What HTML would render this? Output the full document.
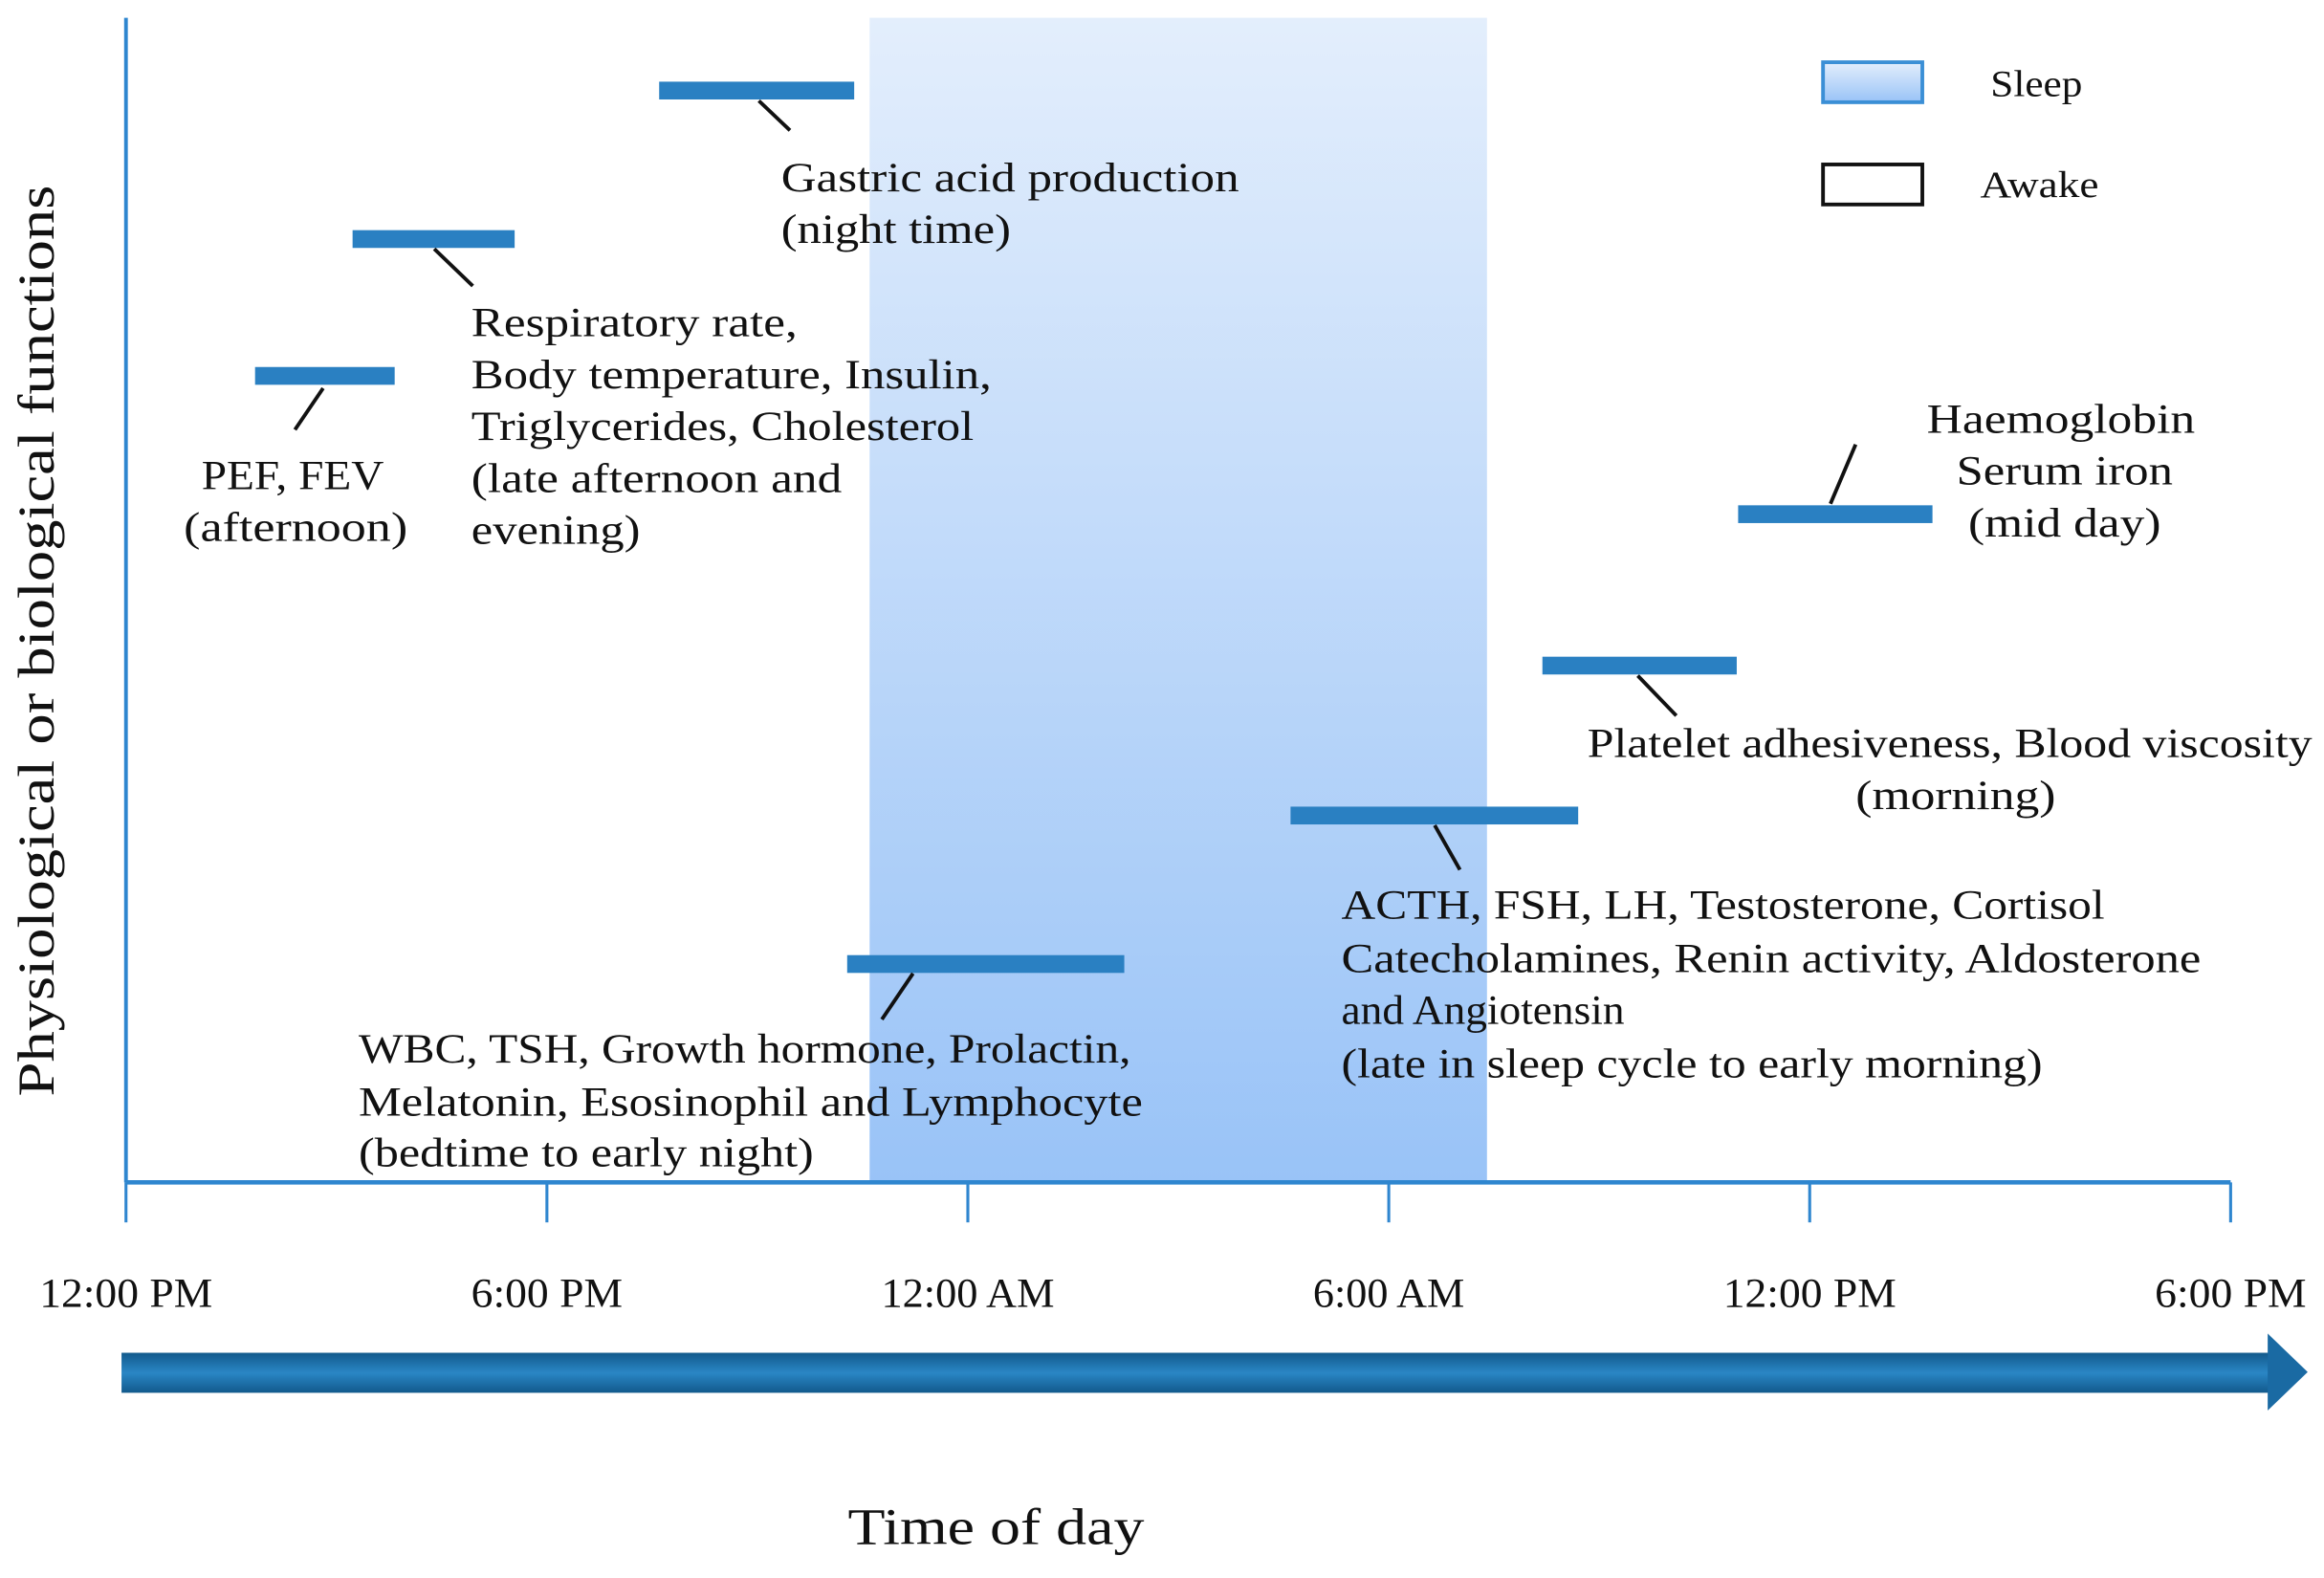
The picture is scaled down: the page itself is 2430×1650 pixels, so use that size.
<!DOCTYPE html>
<html><head><meta charset="utf-8"><style>
html,body{margin:0;padding:0;background:#fff;}
svg{display:block;}
text{font-family:"Liberation Serif",serif;fill:#111;}
</style></head><body>
<svg id="chart" width="2430" height="1650" viewBox="0 0 1568 1065" preserveAspectRatio="none" xmlns="http://www.w3.org/2000/svg">
<defs>
<linearGradient id="sleepGrad" x1="0" y1="0" x2="0" y2="1"><stop offset="0" stop-color="#e3eefc"/><stop offset="1" stop-color="#99c3f7"/></linearGradient>
<linearGradient id="arrowGrad" x1="0" y1="0" x2="0" y2="1"><stop offset="0" stop-color="#125a8c"/><stop offset="0.5" stop-color="#2a86c5"/><stop offset="1" stop-color="#125a8c"/></linearGradient>
</defs>
<g id="sleep-layer"></g>
<g id="axes"></g>
<g id="bars"></g>
<g id="annotations" font-size="28">
<line x1="512" y1="68" x2="533" y2="88" stroke="#111" stroke-width="2.5"/>
<text x="527" y="129" textLength="309" lengthAdjust="spacingAndGlyphs">Gastric acid production</text>
<text x="527" y="164" textLength="155" lengthAdjust="spacingAndGlyphs">(night time)</text>
<line x1="293" y1="168" x2="319" y2="193" stroke="#111" stroke-width="2.5"/>
<text x="318" y="227" textLength="220" lengthAdjust="spacingAndGlyphs">Respiratory rate,</text>
<text x="318" y="262" textLength="351" lengthAdjust="spacingAndGlyphs">Body temperature, Insulin,</text>
<text x="318" y="297" textLength="339" lengthAdjust="spacingAndGlyphs">Triglycerides, Cholesterol</text>
<text x="318" y="332" textLength="250" lengthAdjust="spacingAndGlyphs">(late afternoon and</text>
<text x="318" y="367" textLength="114" lengthAdjust="spacingAndGlyphs">evening)</text>
<line x1="218" y1="262" x2="199" y2="290" stroke="#111" stroke-width="2.5"/>
<text x="136" y="330" textLength="123" lengthAdjust="spacingAndGlyphs">PEF, FEV</text>
<text x="124" y="365" textLength="151" lengthAdjust="spacingAndGlyphs">(afternoon)</text>
<line x1="1235" y1="340" x2="1252" y2="300" stroke="#111" stroke-width="2.5"/>
<text x="1300" y="292" textLength="181" lengthAdjust="spacingAndGlyphs">Haemoglobin</text>
<text x="1320" y="327" textLength="146" lengthAdjust="spacingAndGlyphs">Serum iron</text>
<text x="1328" y="362" textLength="130" lengthAdjust="spacingAndGlyphs">(mid day)</text>
<line x1="1105" y1="456" x2="1131" y2="483" stroke="#111" stroke-width="2.5"/>
<text x="1071" y="511" textLength="489" lengthAdjust="spacingAndGlyphs">Platelet adhesiveness, Blood viscosity</text>
<text x="1252" y="546" textLength="135" lengthAdjust="spacingAndGlyphs">(morning)</text>
<line x1="968" y1="557" x2="985" y2="587" stroke="#111" stroke-width="2.5"/>
<text x="905" y="620" textLength="515" lengthAdjust="spacingAndGlyphs">ACTH, FSH, LH,  Testosterone, Cortisol</text>
<text x="905" y="656" textLength="580" lengthAdjust="spacingAndGlyphs">Catecholamines, Renin activity, Aldosterone</text>
<text x="905" y="691" textLength="191" lengthAdjust="spacingAndGlyphs">and Angiotensin</text>
<text x="905" y="727" textLength="473" lengthAdjust="spacingAndGlyphs">(late in sleep cycle to early morning)</text>
<line x1="616" y1="657" x2="595" y2="688" stroke="#111" stroke-width="2.5"/>
<text x="242" y="717" textLength="521" lengthAdjust="spacingAndGlyphs">WBC, TSH, Growth hormone, Prolactin,</text>
<text x="242" y="753" textLength="529" lengthAdjust="spacingAndGlyphs">Melatonin, Esosinophil and Lymphocyte</text>
<text x="242" y="787" textLength="307" lengthAdjust="spacingAndGlyphs">(bedtime to early night)</text>
</g>
<g id="legend">
<rect x="1230" y="42" width="67" height="27" fill="url(#sleepGrad)" stroke="#3b8fd6" stroke-width="2.5"/>
<text x="1343" y="65" font-size="25" textLength="62" lengthAdjust="spacingAndGlyphs">Sleep</text>
<rect x="1230" y="111" width="67" height="27" fill="#fff" stroke="#111" stroke-width="2.5"/>
<text x="1336" y="133" font-size="25" textLength="80" lengthAdjust="spacingAndGlyphs">Awake</text>
</g>
<g>
<rect x="82" y="913" width="1450" height="27" fill="url(#arrowGrad)"/>
<polygon points="1530,900 1557,926 1530,952" fill="#1a6aa3"/>
</g>
<text x="572" y="1042" font-size="35" textLength="200" lengthAdjust="spacingAndGlyphs">Time of day</text>
<text transform="translate(36,740) rotate(-90)" font-size="35" textLength="615" lengthAdjust="spacingAndGlyphs">Physiological or biological functions</text>
</svg>
<script>
// hours since 12:00 PM
const tickHours = [0, 6, 12, 18, 24, 30];
const tickLabels = ["12:00 PM", "6:00 PM", "12:00 AM", "6:00 AM", "12:00 PM", "6:00 PM"];
const sleepRange = [10.6, 19.4];
const barNames = ["gastric-acid", "respiratory-rate", "pef-fev", "haemoglobin", "platelet", "acth", "wbc"];
const barStarts = [7.6, 3.23, 1.84, 22.98, 20.19, 16.6, 10.28];
const barEnds = [10.38, 5.54, 3.83, 25.75, 22.96, 20.7, 14.23];
const barLevels = [7.5, 6.48, 5.54, 4.59, 3.55, 2.52, 1.5];

const NS = "http://www.w3.org/2000/svg";
const X0 = 85, X1 = 1505, Y0 = 798, Y1 = 12;
function xs(h){ return X0 + h * (X1 - X0) / 30; }
function ys(v){ return Y0 - v * (Y0 - Y1) / 8; }
function mk(tag, attrs, parent){ const e = document.createElementNS(NS, tag); for (const k in attrs) e.setAttribute(k, attrs[k]); parent.appendChild(e); return e; }

const sl = document.getElementById("sleep-layer");
const sr = mk("rect", {x: xs(sleepRange[0]), y: Y1, width: xs(sleepRange[1]) - xs(sleepRange[0]), height: Y0 - Y1, fill: "url(#sleepGrad)"}, sl);



const ax = document.getElementById("axes");
const ya = mk("line", {x1: X0, y1: Y1, x2: X0, y2: Y0, stroke: "#2f86cf", "stroke-width": 2.5}, ax);


const xa = mk("line", {x1: X0, y1: Y0, x2: X1, y2: Y0, stroke: "#2f86cf", "stroke-width": 3}, ax);


tickHours.forEach((h, i) => {
  const t = mk("line", {x1: xs(h), y1: Y0, x2: xs(h), y2: 825, stroke: "#2f86cf", "stroke-width": 2}, ax);
  
  
  const lb = mk("text", {x: xs(h), y: 882, "font-size": 28, "text-anchor": "middle", textLength: tickLabels[i].length * 14.6, lengthAdjust: "spacingAndGlyphs"}, ax);
  lb.textContent = tickLabels[i];
  
  
});

const bg = document.getElementById("bars");
barNames.forEach((n, i) => {
  const r = mk("rect", {x: xs(barStarts[i]), y: ys(barLevels[i]) - 6, width: xs(barEnds[i]) - xs(barStarts[i]), height: 12, fill: "#2a80c2"}, bg);
  
  
});
</script>
</body></html>
